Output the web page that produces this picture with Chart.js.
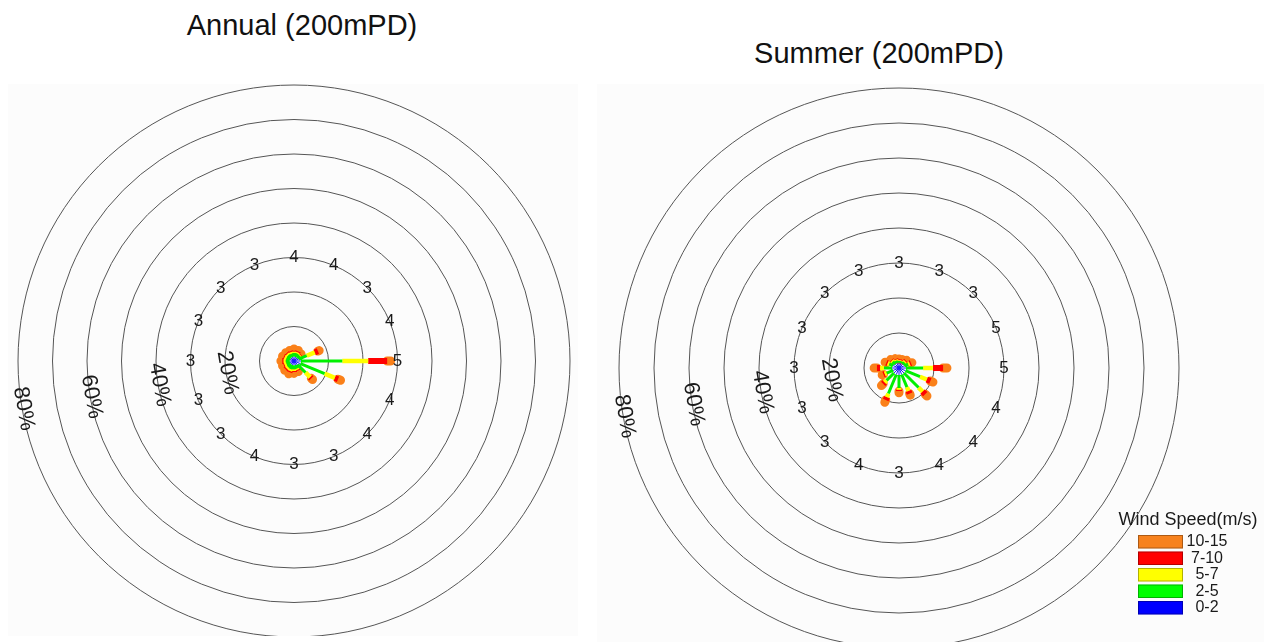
<!DOCTYPE html>
<html>
<head>
<meta charset="utf-8">
<title>Wind rose (200mPD)</title>
<script src="https://cdn.jsdelivr.net/npm/chart.js@4.4.1/dist/chart.umd.min.js"></script>
<style>
  html, body { margin: 0; padding: 0; background: #fff; }
  body { width: 1264px; height: 642px; position: relative; overflow: hidden;
         font-family: 'Liberation Sans', Arial, sans-serif; }
  .panel { position: absolute; background: #fcfcfc; }
  .title { position: absolute; font-size: 29px; color: #111; white-space: nowrap;
           transform: translate(-50%, -50%); }
</style>
</head>
<body>
<div class="title" style="left:302px; top:25px">Annual (200mPD)</div>
<div class="title" style="left:879px; top:53px">Summer (200mPD)</div>
<div class="panel" style="left:8px; top:84px; width:570px; height:552px"><canvas id="annualChart"></canvas></div>
<div class="panel" style="left:597px; top:84px; width:667px; height:558px"><canvas id="summerChart"></canvas></div>

<script>
const directions = ['N', 'NNE', 'NE', 'ENE', 'E', 'ESE', 'SE', 'SSE', 'S', 'SSW', 'SW', 'WSW', 'W', 'WNW', 'NW', 'NNW'];
const speedBands = ['0-2', '2-5', '5-7', '7-10', '10-15'];
const ringTicks = [10, 20, 30, 40, 50, 60, 70, 80];
const ringLabelTicks = [20, 40, 60, 80];

// frequency (%) per direction, N clockwise, for each speed band (m/s)
const annual0to2 = [1.2, 1.2, 1.2, 1.5, 2.0, 2.0, 1.5, 1.2, 1.2, 1.2, 1.2, 1.2, 1.2, 1.2, 1.2, 1.2];
const annual2to5 = [1.1, 1.1, 1.0, 2.5, 12.0, 7.6, 3.2, 1.1, 1.2, 1.3, 1.2, 1.1, 1.2, 1.1, 1.1, 1.0];
const annual5to7 = [0.4, 0.4, 0.3, 2.5, 7.5, 3.2, 1.9, 0.4, 0.5, 0.6, 0.6, 0.6, 0.6, 0.6, 0.5, 0.5];
const annual7to10 = [0.3, 0.3, 0.2, 1.0, 5.5, 1.0, 0.5, 0.3, 0.3, 0.4, 0.4, 0.3, 0.4, 0.3, 0.3, 0.3];
const annual10to15 = [0.5, 0.3, 0.2, 0.4, 1.0, 0.8, 0.5, 0.3, 0.4, 0.5, 0.4, 0.4, 0.4, 0.4, 0.3, 0.3];

const summer0to2 = [1.5, 1.5, 1.5, 1.6, 2.0, 2.0, 2.0, 2.0, 2.0, 2.0, 2.0, 1.8, 2.0, 1.8, 1.5, 1.5];
const summer2to5 = [0.5, 0.5, 0.7, 1.2, 4.9, 4.5, 5.9, 3.9, 3.7, 5.9, 3.0, 2.0, 2.3, 1.2, 1.0, 0.7];
const summer5to7 = [0.2, 0.2, 0.4, 0.5, 2.8, 2.1, 1.6, 1.2, 0.5, 1.1, 0.8, 0.6, 1.1, 0.5, 0.4, 0.3];
const summer7to10 = [0.2, 0.2, 0.3, 0.4, 2.9, 1.1, 1.1, 0.8, 0.4, 0.9, 0.6, 0.4, 0.9, 0.4, 0.2, 0.2];
const summer10to15 = [0.2, 0.2, 0.2, 0.3, 1.1, 0.8, 0.7, 0.5, 0.5, 0.7, 0.7, 0.4, 0.8, 0.4, 0.3, 0.2];

// numbers printed on the 30% ring
const annualMarks = ['4', '4', '3', '4', '5', '4', '4', '3', '3', '4', '3', '3', '3', '3', '3', '3'];
const summerMarks = ['3', '3', '3', '5', '5', '4', '4', '4', '3', '4', '3', '3', '3', '3', '3', '3'];

// styles
const bandColors = ['#1a1aff', '#00f000', '#ffff00', '#ff0000', '#fa8019'];
const legendColors = ['#0000ff', '#00ff00', '#ffff00', '#ff0000', '#f7821e'];
const bandWidths = [1, 3, 4.5, 6, 9];
const FONT = "'Liberation Sans', Arial, sans-serif";

function buildDatasets(bandValues) {
    const cumulative = directions.map(() => 0);
    return bandValues.map((values, b) => {
        const data = [];
        directions.forEach((dir, i) => {
            const a = i * Math.PI / 8;
            const r0 = cumulative[i];
            const r1 = r0 + values[i];
            cumulative[i] = r1;
            data.push({ x: r0 * Math.sin(a), y: r0 * Math.cos(a) });
            data.push({ x: r1 * Math.sin(a), y: r1 * Math.cos(a) });
            data.push({ x: null, y: null });
        });
        return {
            label: speedBands[b],
            data: data,
            showLine: true,
            spanGaps: false,
            borderColor: bandColors[b],
            backgroundColor: bandColors[b],
            borderWidth: bandWidths[b],
            borderCapStyle: b === 4 ? 'round' : 'butt',
            // a solid "dash" keeps chart.js off its pixel-merging fast path
            borderDash: [4000, 0],
            pointRadius: 0,
            pointHoverRadius: 0,
            tension: 0
        };
    });
}

const rosePlugin = {
    id: 'rose',
    beforeDatasetsDraw(chart) {
        const { ctx, scales: { x, y } } = chart;
        const cx = x.getPixelForValue(0), cy = y.getPixelForValue(0);
        ctx.save();
        ctx.strokeStyle = '#555555';
        ctx.lineWidth = 1;
        ringTicks.forEach(v => {
            const r = x.getPixelForValue(v) - cx;
            ctx.beginPath();
            ctx.arc(cx, cy, r, 0, Math.PI * 2);
            ctx.stroke();
        });
        ctx.restore();
    },
    afterDatasetsDraw(chart, args, opts) {
        const { ctx, scales: { x, y } } = chart;
        ctx.save();
        ctx.fillStyle = '#1a1a1a';
        ctx.textAlign = 'center';
        ctx.textBaseline = 'middle';

        // speed numbers around the 30% ring
        ctx.font = '17px ' + FONT;
        opts.marks.forEach((m, i) => {
            const a = i * Math.PI / 8;
            ctx.fillText(m, x.getPixelForValue(30 * Math.sin(a)), y.getPixelForValue(30 * Math.cos(a)));
        });

        // percentage labels, written along the rings
        ctx.font = '22px ' + FONT;
        const phi = 260 * Math.PI / 180;
        ringLabelTicks.forEach(v => {
            const r = v - 0.4;
            ctx.save();
            ctx.translate(x.getPixelForValue(r * Math.sin(phi)), y.getPixelForValue(r * Math.cos(phi)));
            ctx.rotate(80 * Math.PI / 180);
            ctx.fillText(v + '%', 0, 0);
            ctx.restore();
        });
        ctx.restore();
    }
};

const legendPlugin = {
    id: 'speedLegend',
    afterDraw(chart, args, opts) {
        if (!opts.show) return;
        const ctx = chart.ctx;
        ctx.save();
        ctx.fillStyle = '#1a1a1a';
        ctx.textAlign = 'center';
        ctx.textBaseline = 'middle';
        ctx.font = '18px ' + FONT;
        ctx.fillText('Wind Speed(m/s)', opts.left + 50, opts.top);
        ctx.font = '16px ' + FONT;
        const order = [4, 3, 2, 1, 0];
        order.forEach((b, k) => {
            const top = opts.top + 15 + k * 16.5;
            ctx.fillStyle = legendColors[b];
            ctx.fillRect(opts.left, top, 45, 13.5);
            ctx.strokeStyle = 'rgba(0,0,0,0.3)';
            ctx.lineWidth = 1;
            ctx.strokeRect(opts.left + 0.5, top + 0.5, 44, 12.5);
            ctx.fillStyle = '#1a1a1a';
            ctx.fillText(speedBands[b], opts.left + 69, top + 7);
        });
        ctx.restore();
    }
};

function makeRose(canvasId, bandValues, marks, lay, legend) {
    const sx = lay.pxPerPct;
    new Chart(document.getElementById(canvasId), {
        type: 'scatter',
        data: { datasets: buildDatasets(bandValues) },
        options: {
            responsive: true,
            maintainAspectRatio: false,
            animation: false,
            events: [],
            layout: { padding: 0 },
            scales: {
                x: { type: 'linear', bounds: 'data', min: -lay.cx / sx, max: (lay.width - lay.cx) / sx, display: false },
                y: { type: 'linear', bounds: 'data', min: -(lay.height - lay.cy) / sx, max: lay.cy / sx, display: false }
            },
            plugins: {
                legend: { display: false },
                tooltip: { enabled: false },
                rose: { marks: marks },
                speedLegend: legend
            }
        },
        plugins: [rosePlugin, legendPlugin]
    });
}

document.addEventListener('DOMContentLoaded', () => {
    makeRose('annualChart',
        [annual0to2, annual2to5, annual5to7, annual7to10, annual10to15],
        annualMarks,
        { cx: 286, cy: 277, width: 570, height: 552, pxPerPct: 3.45 },
        { show: false });

    makeRose('summerChart',
        [summer0to2, summer2to5, summer5to7, summer7to10, summer10to15],
        summerMarks,
        { cx: 302, cy: 284, width: 667, height: 558, pxPerPct: 3.5 },
        { show: true, left: 541, top: 436 });
});
</script>
</body>
</html>
